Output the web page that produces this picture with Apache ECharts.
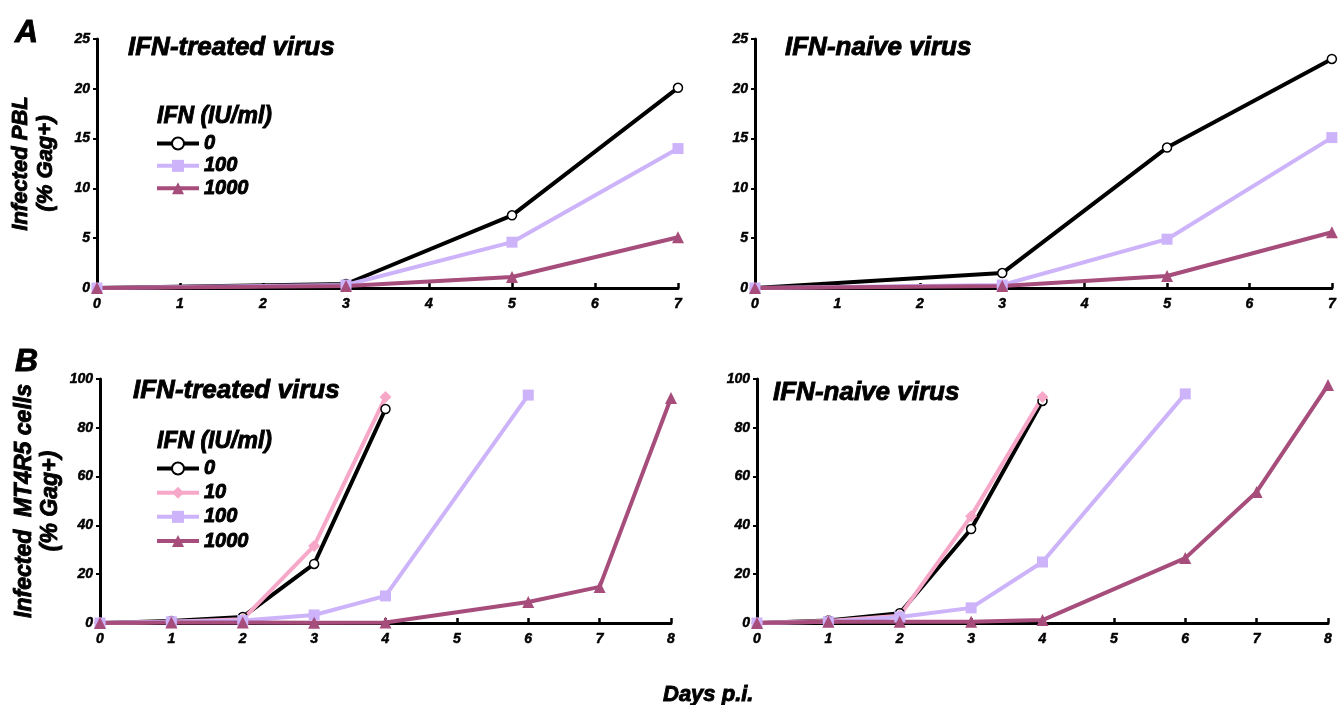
<!DOCTYPE html>
<html>
<head>
<meta charset="utf-8">
<script src="https://cdn.jsdelivr.net/npm/echarts@6/dist/echarts.min.js"></script>
<style>
html,body{margin:0;padding:0;background:#fff;}
#c{width:1339px;height:705px;}
</style>
</head>
<body>
<div id="c"></div>
<script>
// ---- Data ----
const seriesNames = ['0', '10', '100', '1000'];
const pblDays = [0, 3, 5, 7];
const pblTreated0 = [0, 0.4, 7.3, 20.1];
const pblTreated100 = [0, 0.3, 4.6, 14.0];
const pblTreated1000 = [0, 0.2, 1.1, 5.1];
const pblNaive0 = [0, 1.5, 14.1, 23.0];
const pblNaive100 = [0, 0.3, 4.9, 15.1];
const pblNaive1000 = [0, 0.2, 1.2, 5.6];

const mtDays0 = [0, 1, 2, 3, 4];
const mtDays100 = [0, 1, 2, 3, 4, 6];
const mtDays1000 = [0, 1, 2, 3, 4, 6, 7, 8];
const mtTreated0 = [0, 0.8, 2.5, 24.2, 87.7];
const mtTreated10 = [0, 0.5, 1.5, 31.6, 92.6];
const mtTreated100 = [0, 0.5, 1.0, 3.3, 11.1, 93.4];
const mtTreated1000 = [0, 0.2, 0.2, 0.1, 0.2, 8.6, 14.8, 92.2];
const mtNaive0 = [0, 1.0, 4.0, 38.5, 91.0];
const mtNaive10 = [0, 0.8, 3.0, 43.8, 92.6];
const mtNaive100 = [0, 0.5, 2.5, 6.2, 25.0, 93.9];
const mtNaive1000 = [0, 0.5, 0.5, 0.5, 1.2, 26.6, 53.7, 97.5];

const pblTicks = [0, 5, 10, 15, 20, 25];
const mtTicks = [0, 20, 40, 60, 80, 100];

// ---- Styles ----
const FONT = '"Liberation Sans", Arial, sans-serif';
const colors = { '0': '#000000', '10': '#f7a8c8', '100': '#cdb3f9', '1000': '#a64d7b' };
const symbols = { '0': 'circle', '10': 'diamond', '100': 'rect', '1000': 'triangle' };
const symSize = { '0': 9, '10': 12, '100': 11, '1000': 12 };

function zip(xs, ys) { return xs.map((x, i) => [x, ys[i]]); }

function mkSeries(name, idx, xs, ys) {
  const isOpen = name === '0';
  return {
    name: name, type: 'line', xAxisIndex: idx, yAxisIndex: idx,
    data: zip(xs, ys),
    symbol: symbols[name], symbolSize: symSize[name],
    showAllSymbol: true,
    lineStyle: { color: colors[name], width: 4 },
    itemStyle: { color: isOpen ? '#ffffff' : colors[name], borderColor: colors[name], borderWidth: isOpen ? 1.5 : 0 },
    emphasis: { disabled: true },
    animation: false
  };
}

const grids = [
  { left: 97, right: 661, top: 39, bottom: 417 },
  { left: 755, right: 7, top: 39, bottom: 417 },
  { left: 100, right: 668, top: 379, bottom: 82 },
  { left: 757, right: 11, top: 379, bottom: 82 }
];

function heavy(size, extra) {
  return Object.assign({ fontFamily: FONT, fontWeight: 'bold', fontStyle: 'italic', fontSize: size, color: '#000',
    textBorderColor: '#000', textBorderWidth: size > 16 ? 0.9 : 0.5 }, extra || {});
}
const labelStyle = heavy(14);

function mkX(idx, max) {
  return {
    type: 'value', gridIndex: idx, min: 0, max: max, interval: 1,
    axisLine: { show: true, onZero: false, lineStyle: { color: '#000', width: 3 } },
    axisTick: { show: true, inside: true, length: 5, lineStyle: { color: '#000', width: 2.5 } },
    axisLabel: Object.assign({ margin: 9 }, labelStyle),
    splitLine: { show: false }
  };
}
function mkY(idx, max, interval, name, gap, nameSize) {
  return {
    type: 'value', gridIndex: idx, min: 0, max: max, interval: interval,
    axisLine: { show: true, onZero: false, lineStyle: { color: '#000', width: 3 } },
    axisTick: { show: true, length: 4, lineStyle: { color: '#000', width: 2 } },
    axisLabel: Object.assign({ margin: 7 }, labelStyle),
    splitLine: { show: false },
    name: name, nameLocation: 'middle', nameRotate: 90, nameGap: gap,
    nameMoveOverlap: false,
    nameTextStyle: heavy(nameSize, { lineHeight: nameSize * 1.15, align: 'center' })
  };
}

const titleStyle = heavy(26);
const legendText = heavy(20, { lineHeight: 19 });

const option = {
  backgroundColor: '#fff',
  animation: false,
  title: [
    { text: 'A', left: 10, top: 12, textStyle: heavy(32) },
    { text: 'B', left: 10, top: 341, textStyle: heavy(32) },
    { text: 'IFN-treated virus', left: 123, top: 30, textStyle: titleStyle },
    { text: 'IFN-naive virus', left: 780, top: 30, textStyle: titleStyle },
    { text: 'IFN-treated virus', left: 128, top: 373, textStyle: titleStyle },
    { text: 'IFN-naive virus', left: 768, top: 375, textStyle: titleStyle },
    { text: 'IFN (IU/ml)', left: 152, top: 100, textStyle: heavy(23) },
    { text: 'IFN (IU/ml)', left: 152, top: 425, textStyle: heavy(23) },
    { text: 'Days p.i.', left: 658, top: 679, textStyle: heavy(22) }
  ],
  legend: [
    { orient: 'vertical', left: 150, top: 128, itemWidth: 42, itemHeight: 15, itemGap: 1.5,
      data: ['0', '100', '1000'], textStyle: legendText, selectedMode: false,
      lineStyle: { width: 4 } },
    { orient: 'vertical', left: 150, top: 453, itemWidth: 42, itemHeight: 15, itemGap: 3.3,
      data: ['0', '10', '100', '1000'], textStyle: legendText, selectedMode: false,
      lineStyle: { width: 4 } }
  ],
  grid: grids,
  xAxis: [mkX(0, 7), mkX(1, 7), mkX(2, 8), mkX(3, 8)],
  yAxis: [
    mkY(0, pblTicks[pblTicks.length - 1], pblTicks[1] - pblTicks[0], 'Infected PBL\n(% Gag+)', 38, 22),
    mkY(1, pblTicks[pblTicks.length - 1], pblTicks[1] - pblTicks[0], '', 40, 20),
    mkY(2, mtTicks[mtTicks.length - 1], mtTicks[1] - mtTicks[0], 'Infected  MT4R5 cells\n(% Gag+)', 36, 23),
    mkY(3, mtTicks[mtTicks.length - 1], mtTicks[1] - mtTicks[0], '', 40, 20)
  ],
  series: [
    mkSeries('0', 0, pblDays, pblTreated0),
    mkSeries('100', 0, pblDays, pblTreated100),
    mkSeries('1000', 0, pblDays, pblTreated1000),
    mkSeries('0', 1, pblDays, pblNaive0),
    mkSeries('100', 1, pblDays, pblNaive100),
    mkSeries('1000', 1, pblDays, pblNaive1000),
    mkSeries('0', 2, mtDays0, mtTreated0),
    mkSeries('10', 2, mtDays0, mtTreated10),
    mkSeries('100', 2, mtDays100, mtTreated100),
    mkSeries('1000', 2, mtDays1000, mtTreated1000),
    mkSeries('0', 3, mtDays0, mtNaive0),
    mkSeries('10', 3, mtDays0, mtNaive10),
    mkSeries('100', 3, mtDays100, mtNaive100),
    mkSeries('1000', 3, mtDays1000, mtNaive1000)
  ]
};

const chart = echarts.init(document.getElementById('c'), null, { renderer: 'canvas' });
chart.setOption(option);
</script>
</body>
</html>
